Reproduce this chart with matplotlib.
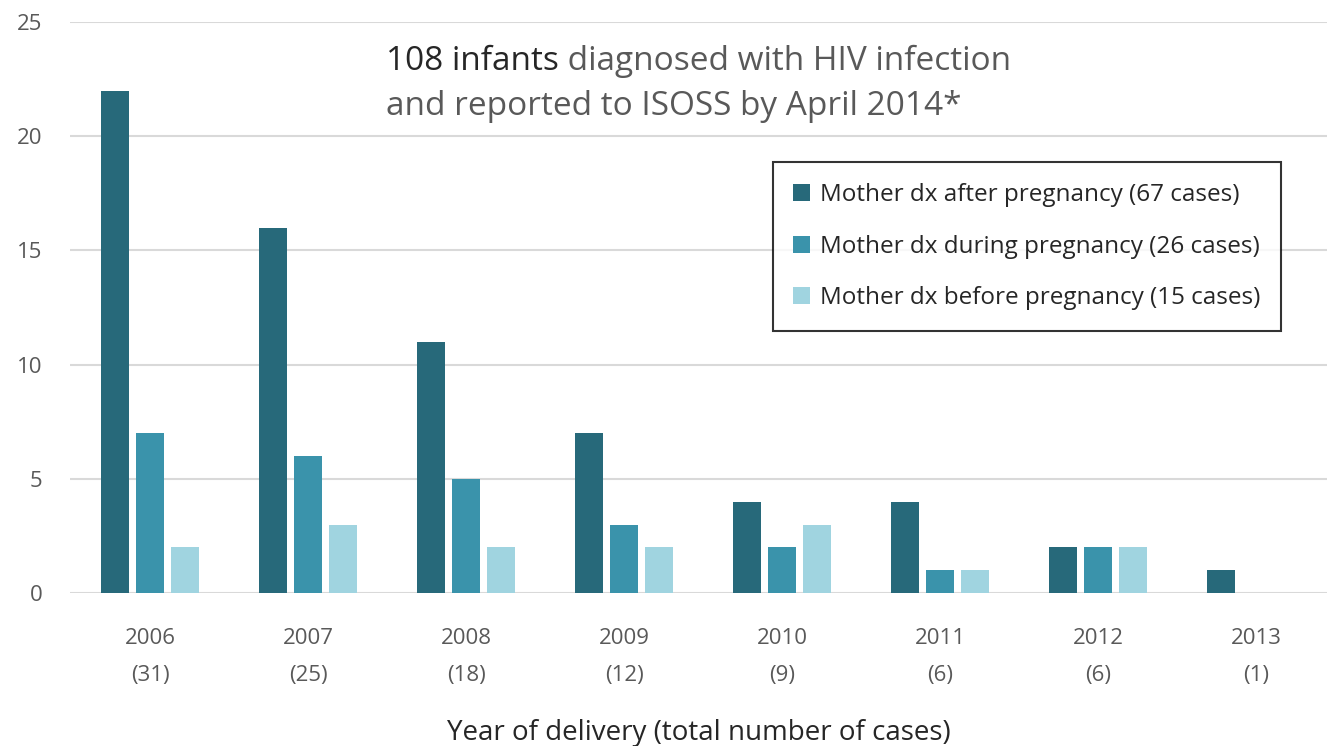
import matplotlib.pyplot as plt
import numpy as np

plt.rcParams['font.family'] = ['Open Sans', 'DejaVu Sans']

years = ['2006', '2007', '2008', '2009', '2010', '2011', '2012', '2013']
totals = [31, 25, 18, 12, 9, 6, 6, 1]
after = [22, 16, 11, 7, 4, 4, 2, 1]
during = [7, 6, 5, 3, 2, 1, 2, 0]
before = [2, 3, 2, 2, 3, 1, 2, 0]

labels = ['Mother dx after pregnancy (67 cases)',
          'Mother dx during pregnancy (26 cases)',
          'Mother dx before pregnancy (15 cases)']
colors = ['#27697A', '#3A93AB', '#A0D4E0']

fig = plt.figure(figsize=(13.27, 7.46), dpi=100)
ax = fig.add_axes([0.053, 0.205, 0.947, 0.7655])

x = np.arange(len(years))
w = 0.177
off = 0.2215
for i, (vals, c, lab) in enumerate(zip([after, during, before], colors, labels)):
    ax.bar(x + (i - 1) * off, vals, width=w, color=c, label=lab, zorder=3)

ax.set_ylim(0, 25)
ax.set_xlim(-0.506, 7.45)
ax.set_yticks(range(0, 26, 5))
ax.yaxis.grid(True, color='#D9D9D9', linewidth=1.5, zorder=0)
for s in ax.spines.values():
    s.set_visible(False)
ax.tick_params(axis='both', length=0, labelsize=16, labelcolor='#595959')
ax.tick_params(axis='y', pad=20)
ax.set_xticks(x)
ax.set_xticklabels([f'{y}\n({t})' for y, t in zip(years, totals)], linespacing=2.0)
ax.tick_params(axis='x', pad=25)
ax.set_xlabel('Year of delivery (total number of cases)', fontsize=20,
              color='#262626', labelpad=24)

# title: first words darker
ty1, ty2 = 0.931, 0.852
t1 = ax.text(0.2515, ty1, '108 infants', transform=ax.transAxes, fontsize=24,
             color='#262626', va='center')
fig.canvas.draw()
bb = t1.get_window_extent()
xend = ax.transAxes.inverted().transform((bb.x1, bb.y0))[0]
ax.text(xend, ty1, ' diagnosed with HIV infection', transform=ax.transAxes,
        fontsize=24, color='#595959', va='center')
ax.text(0.2515, ty2, 'and reported to ISOSS by April 2014*', transform=ax.transAxes,
        fontsize=24, color='#595959', va='center')

leg = ax.legend(loc='upper left', bbox_to_anchor=(0.559, 0.755), fontsize=17.5,
                frameon=True, fancybox=False, edgecolor='black', handlelength=0.7,
                handleheight=0.7, handletextpad=0.4, labelspacing=1.15,
                borderpad=0.85, borderaxespad=0)
leg.get_frame().set_linewidth(1.5)
for t in leg.get_texts():
    t.set_color('#262626')

fig.savefig('out.png', dpi=100)
